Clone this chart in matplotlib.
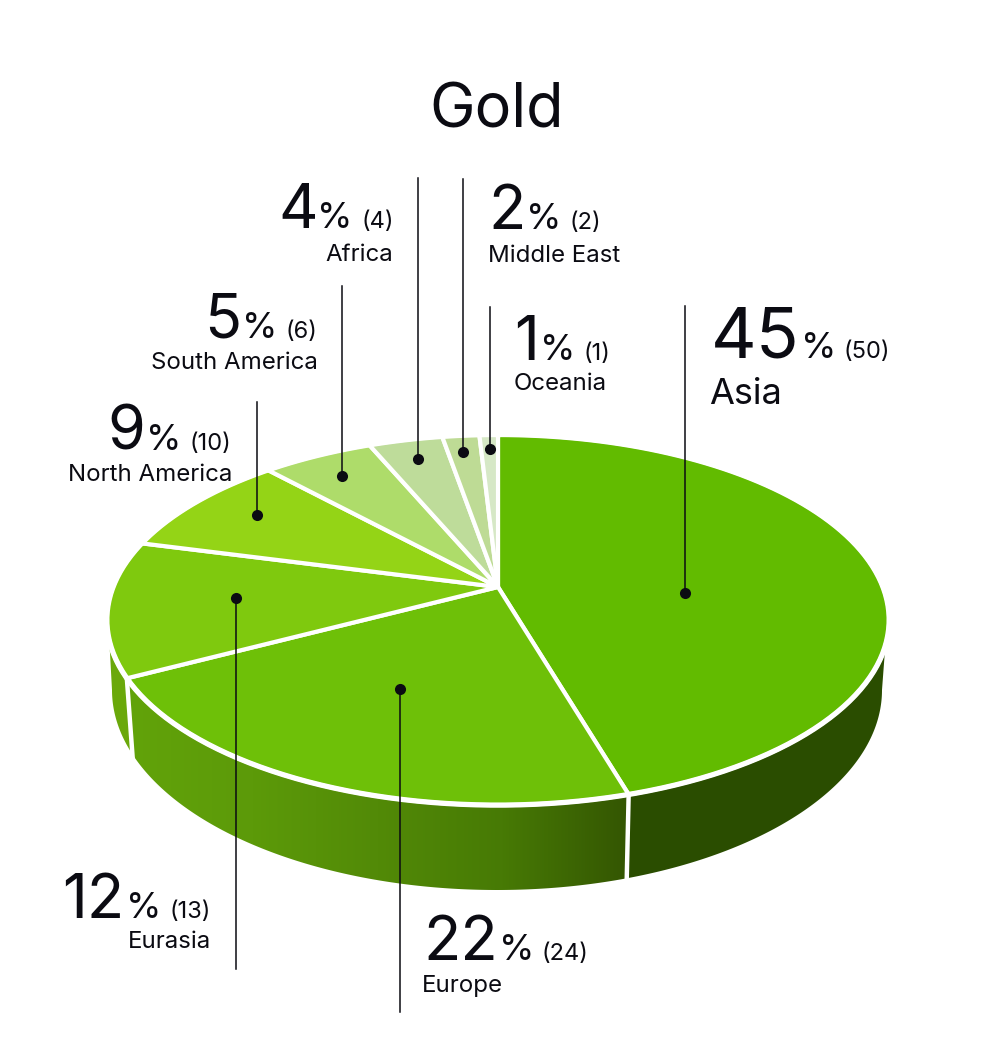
import numpy as np
import matplotlib
matplotlib.use("Agg")
import matplotlib.pyplot as plt
from matplotlib.colors import LinearSegmentedColormap
from matplotlib.patches import Polygon

plt.rcParams["font.family"] = ["Inter", "DejaVu Sans"]

# data, clockwise from the top of the pie
regions = ["Asia", "Europe", "Eurasia", "North America", "South America", "Africa", "Middle East", "Oceania"]
counts = [50, 24, 13, 10, 6, 4, 2, 1]
percents = [45, 22, 12, 9, 5, 4, 2, 1]
colors = ["#62BB00", "#6EC008", "#7FC90E", "#94D416", "#AEDC6A", "#BEDC9A", "#BEDB95", "#D6E8C6"]
title = "Gold"

# where each leader line and dot sit: x, line end y, dot y
leaders = [(685, 306, 593), (400, 1012, 689), (236, 969, 598), (257, 402, 515),
           (342, 286, 476), (418, 178, 459), (463, 179, 452), (490, 307, 449)]
# text layout: number x, % x, count x, baseline, name x, name baseline
labels = [(711, 801, 844, 358, 709, 404), (423, 499, 542, 960, 422, 992),
          (62, 126, 170, 918, 128, 948), (107, 146, 190, 450, 68, 481),
          (204, 242, 285, 338, 151, 369), (278, 317, 361, 228, 325, 261),
          (488, 526, 570, 229, 488, 262), (514, 540, 584, 360, 514, 390)]

# pie in perspective: the apex sits above the centre of the ellipse
APEX = (498, 587)
K = 0.177
A = 179.5
B = 385.0
BOTTOM = (497, 690, 385, 200)  # lower edge of the side wall
WALL_RIGHT = (885, 650)
WALL_LEFT = (110, 653)
WALL_STOPS = ["#62A30A", "#5C9A09", "#528A07", "#477A05", "#345602"]


def project(frac):
    a = 2 * np.pi * np.asarray(frac)
    u, v = np.sin(a), np.cos(a)
    d = 1 + K * v
    return APEX[0] + B * u / d, APEX[1] - A * v / d


def arc(f0, f1):
    x, y = project(np.linspace(f0, f1, 200))
    return np.column_stack([x, y])


def lower_arc(t0, t1):
    t = np.linspace(t0, t1, 200)
    cx, cy, rx, ry = BOTTOM
    return np.column_stack([cx + rx * np.cos(t), cy + ry * np.sin(t)])


def bottom_angle(x):
    return np.arccos((x - BOTTOM[0]) / BOTTOM[2])


def draw_wall(ax, rim, low, facecolor=None):
    poly = np.vstack([rim, low])
    if facecolor is not None:
        ax.fill(poly[:, 0], poly[:, 1], color=facecolor, lw=0, zorder=1)
        return
    cmap = LinearSegmentedColormap.from_list("wall", WALL_STOPS)
    im = ax.imshow(np.linspace(0, 1, 256).reshape(1, -1), cmap=cmap, aspect="auto",
                   extent=(128, 628, 900, 640), zorder=1)
    im.set_clip_path(Polygon(poly, transform=ax.transData))


def main():
    fig = plt.figure(figsize=(10, 10.5), dpi=100)
    ax = fig.add_axes([0, 0, 1, 1])

    edges = np.cumsum([0] + counts) / sum(counts)

    # side walls
    f_eur, f_eas = edges[1], edges[2]
    x_eur = project(f_eur)[0]
    x_eas = project(f_eas)[0]
    right_rim = np.vstack([[WALL_RIGHT], arc(0.30, f_eur)])
    left_rim = np.vstack([arc(f_eas, 0.72), [WALL_LEFT]])
    draw_wall(ax, right_rim, lower_arc(bottom_angle(x_eur - 2), 0), "#2A4D00")
    draw_wall(ax, arc(f_eur, f_eas), lower_arc(bottom_angle(x_eas + 6), bottom_angle(x_eur - 2)))
    draw_wall(ax, left_rim, lower_arc(np.pi, bottom_angle(x_eas + 6)), "#6AA80A")

    # white gaps between the walls
    for x, y, by in [(x_eur, project(f_eur)[1], 882), (x_eas, project(f_eas)[1], 760)]:
        x1 = x - 2 if by > 800 else x + 6
        ax.plot([x, x1], [y, by], color="white", lw=3.2, zorder=2)

    # top face
    for f0, f1, c in zip(edges[:-1], edges[1:], colors):
        pts = np.vstack([[APEX], arc(f0, f1)])
        ax.fill(pts[:, 0], pts[:, 1], facecolor=c, edgecolor="white", lw=3.0, joinstyle="round", zorder=3)
    rim = arc(0, 1)
    ax.plot(rim[:, 0], rim[:, 1], color="white", lw=3.8, zorder=4)

    # leaders
    for x, y_end, y_dot in leaders:
        ax.plot([x, x], [y_end, y_dot], color="#0B0B12", lw=1.1, zorder=5)
        ax.plot([x], [y_dot], "o", color="#0B0B12", ms=8, mew=0, zorder=6)

    # labels
    ink = "#0B0B12"
    ax.text(497, 128, title, fontsize=44, ha="center", va="baseline", color=ink)
    for i, (name, n, pct) in enumerate(zip(regions, counts, percents)):
        nx, px, cx, base, tx, tbase = labels[i]
        big = 51 if i == 0 else 44
        ax.text(nx, base, str(pct), fontsize=big, va="baseline", color=ink)
        ax.text(px, base, "%", fontsize=26, va="baseline", color=ink)
        ax.text(cx, base, f"({n})", fontsize=17, va="baseline", color=ink)
        ax.text(tx, tbase, name, fontsize=26 if i == 0 else 17.3, va="baseline", color=ink)

    ax.set_xlim(0, 1000)
    ax.set_ylim(1050, 0)
    ax.axis("off")
    fig.savefig("out.png", dpi=100)
    plt.close(fig)


if __name__ == "__main__":
    main()
